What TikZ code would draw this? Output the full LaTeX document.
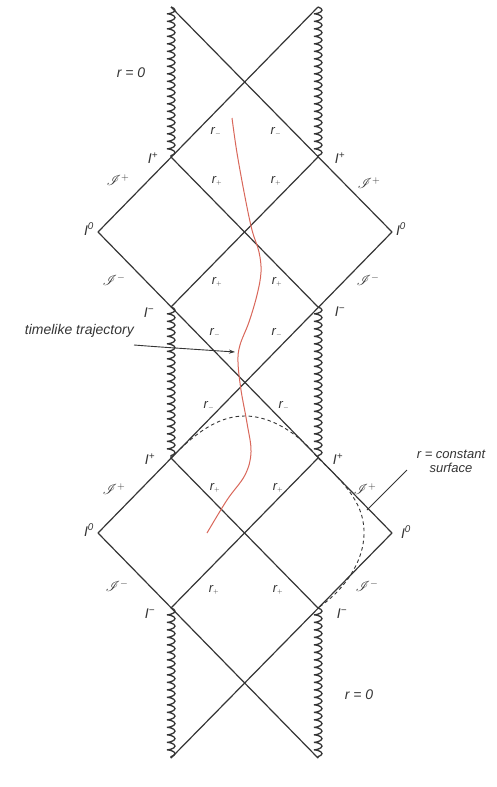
\documentclass[tikz,border=0pt]{standalone}
\usepackage{fontspec}
\setmainfont{Liberation Sans}
\usepackage{mathrsfs}
\usetikzlibrary{decorations.pathmorphing,arrows.meta}
\definecolor{ink}{HTML}{353535}
\definecolor{traj}{HTML}{D9675A}
\tikzset{
  horizon/.style={draw=ink,line width=1.2pt},
  sing/.style={draw=ink,line width=1.3pt,decorate,decoration={coil,aspect=0.3,segment length=7.5pt,amplitude=4pt}},
  lab/.style={font=\fontsize{14}{14}\selectfont\itshape,text=ink,inner sep=0pt},
  rlab/.style={font=\fontsize{13}{13}\selectfont\itshape,text=ink,inner sep=0pt},
  txt/.style={font=\fontsize{13}{14}\selectfont\itshape,text=ink,inner sep=0pt,align=center},
}
\begin{document}
\begin{tikzpicture}[x=1pt,y=-1pt]
\path[use as bounding box,fill=white] (0,0) rectangle (496,787);
% key points
\coordinate (T1) at (171,7);   \coordinate (T2) at (318,7);
\coordinate (P1L) at (171,157); \coordinate (P1R) at (318,157);
\coordinate (O1L) at (98,232);  \coordinate (O1R) at (392,232);
\coordinate (M1L) at (171,307); \coordinate (M1R) at (318,307);
\coordinate (P2L) at (171,458); \coordinate (P2R) at (318,458);
\coordinate (O2L) at (98,533);  \coordinate (O2R) at (392,533);
\coordinate (M2L) at (171,608); \coordinate (M2R) at (318,608);
\coordinate (B1) at (171,758);  \coordinate (B2) at (318,758);
% horizons / null lines
\draw[horizon] (T1) -- (O1R);
\draw[horizon] (T2) -- (O1L);
\draw[horizon] (P1L) -- (M1R);
\draw[horizon] (P1R) -- (M1L);
\draw[horizon] (O1L) -- (O2R);
\draw[horizon] (O1R) -- (O2L);
\draw[horizon] (P2L) -- (M2R);
\draw[horizon] (P2R) -- (M2L);
\draw[horizon] (O2L) -- (B2);
\draw[horizon] (O2R) -- (B1);
% singularities
\draw[sing] (T1) -- (P1L);
\draw[sing] (T2) -- (P1R);
\draw[sing] (M1L) -- (P2L);
\draw[sing] (M1R) -- (P2R);
\draw[sing] (M2L) -- (B1);
\draw[sing] (M2R) -- (B2);
% r = constant surface
\draw[ink,line width=0.9pt,dash pattern=on 3.5pt off 3pt]
  (P2L) .. controls (200,428) and (222,416) .. (245,416)
        .. controls (268,416) and (296,430) .. (P2R)
        .. controls (348,486) and (365,506) .. (364,535)
        .. controls (363,563) and (344,590) .. (M2R);
% timelike trajectory
\draw[traj,line width=1pt] plot[smooth,tension=0.6] coordinates {
  (232,118) (237,153) (245,197) (252,230) (259,252) (261,272) (257,295)
  (249,322) (240,345) (238,362) (241,390) (247,423) (251,452) (245,475)
  (227,500) (207,533)};
% labels
\node[lab] (rz1) at (131,73) {r = 0};
\node[lab] (rz2) at (359,695) {r = 0};
\node[txt,anchor=east,font=\fontsize{14}{14}\selectfont\itshape] (tt) at (134,331) {timelike trajectory};
\coordinate (ta) at (134,345);
\coordinate (tb) at (235,352);
\draw[ink,line width=0.9pt,-{Stealth[length=6pt,width=4pt]}] (ta) .. controls (160,347) .. (tb);
\node[txt] (rc) at (451,461) {r = constant\\surface};
\coordinate (rca) at (407,470);
\coordinate (rcb) at (367,510);
\draw[ink,line width=0.9pt] (rca) -- (rcb);
% r labels
\node[rlab] (a1) at (216,132) {r$_{\scriptscriptstyle -}$};
\node[rlab] (a2) at (276,132) {r$_{\scriptscriptstyle -}$};
\node[rlab] (a3) at (217,181) {r$_{\scriptscriptstyle +}$};
\node[rlab] (a4) at (276,181) {r$_{\scriptscriptstyle +}$};
\node[rlab] (a5) at (217,282) {r$_{\scriptscriptstyle +}$};
\node[rlab] (a6) at (277,282) {r$_{\scriptscriptstyle +}$};
\node[rlab] (a7) at (215,333) {r$_{\scriptscriptstyle -}$};
\node[rlab] (a8) at (277,333) {r$_{\scriptscriptstyle -}$};
\node[rlab] (a9) at (209,406) {r$_{\scriptscriptstyle -}$};
\node[rlab] (a10) at (284,406) {r$_{\scriptscriptstyle -}$};
\node[rlab] (a11) at (215,488) {r$_{\scriptscriptstyle +}$};
\node[rlab] (a12) at (278,488) {r$_{\scriptscriptstyle +}$};
\node[rlab] (a13) at (214,590) {r$_{\scriptscriptstyle +}$};
\node[rlab] (a14) at (278,590) {r$_{\scriptscriptstyle +}$};
% I labels
\node[lab] (ip1) at (153,158) {I\textsuperscript{+}};
\node[lab] (ip2) at (340,158) {I\textsuperscript{+}};
\node[lab] (io1) at (89,229) {I\textsuperscript{0}};
\node[lab] (io2) at (401,229) {I\textsuperscript{0}};
\node[lab] (im1) at (149,313) {I\textsuperscript{−}};
\node[lab] (im2) at (340,312) {I\textsuperscript{−}};
\node[lab] (ip3) at (150,459) {I\textsuperscript{+}};
\node[lab] (ip4) at (338,459) {I\textsuperscript{+}};
\node[lab] (io3) at (89,530) {I\textsuperscript{0}};
\node[lab] (io4) at (406,532) {I\textsuperscript{0}};
\node[lab] (im3) at (150,614) {I\textsuperscript{−}};
\node[lab] (im4) at (342,614) {I\textsuperscript{−}};
% scri labels
\node[lab] (s1) at (118,180) {$\mathscr{I}^{+}$};
\node[lab] (s2) at (369,183) {$\mathscr{I}^{+}$};
\node[lab] (s3) at (114,280) {$\mathscr{I}^{-}$};
\node[lab] (s4) at (368,280) {$\mathscr{I}^{-}$};
\node[lab] (s5) at (114,489) {$\mathscr{I}^{+}$};
\node[lab] (s6) at (365,489) {$\mathscr{I}^{+}$};
\node[lab] (s7) at (117,586) {$\mathscr{I}^{-}$};
\node[lab] (s8) at (367,586) {$\mathscr{I}^{-}$};
\end{tikzpicture}
\end{document}
